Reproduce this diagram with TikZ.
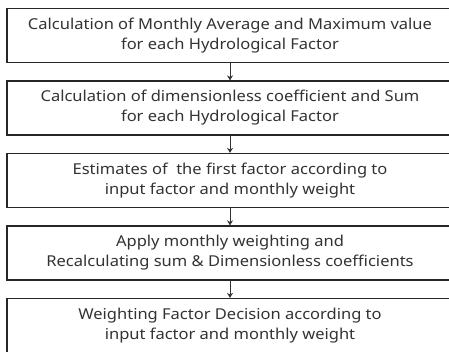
\documentclass[tikz,border=0pt]{standalone}
\usepackage{fontspec}
\setmainfont{Noto Sans}[FakeStretch=1.1]
\usepackage{tikz}
\usetikzlibrary{arrows.meta,positioning}

\begin{document}
\begin{tikzpicture}[->, >={Stealth[length=5pt,width=6pt]}, semithick, node distance=72.5pt]
\tikzstyle{stage}=[draw=black!85, line width=1.3pt, fill=white, text=black!80,
  minimum width=446pt, minimum height=54pt, align=center,
  font=\fontsize{15pt}{20pt}\selectfont, inner sep=0pt]
\useasboundingbox (0,0) rectangle (449pt,-352pt);
\node[stage]  (1) at (230pt,-35.5pt) {Calculation of Monthly Average and Maximum value\\for each Hydrological Factor};
\node[stage]  (2)[below of=1]  {Calculation of dimensionless coefficient and Sum\\for each Hydrological Factor};
\node[stage]  (3)[below of=2]  {Estimates of \ the first factor according to\\input factor and monthly weight};
\node[stage]  (4)[below of=3]  {Apply monthly weighting and\\Recalculating sum \& Dimensionless coefficients};
\node[stage]  (5)[below of=4]  {Weighting Factor Decision according to\\input factor and monthly weight};
\path[draw=black!80, line width=1pt]
(1) edge (2)
(2) edge (3)
(3) edge (4)
(4) edge (5);

\end{tikzpicture}
\end{document}
